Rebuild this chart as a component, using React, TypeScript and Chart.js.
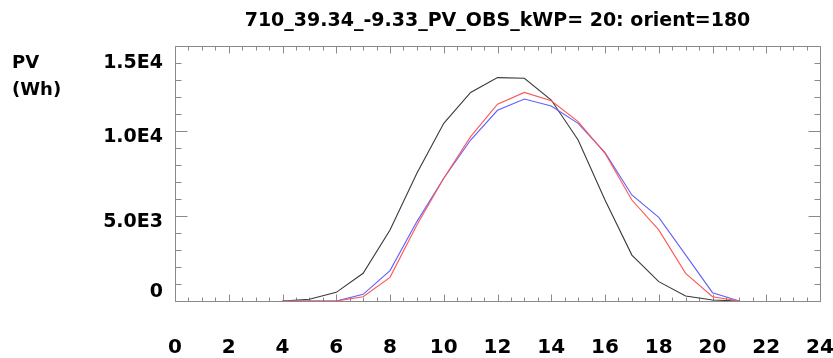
import React, { useEffect, useRef } from "react";
import { Chart, registerables } from "chart.js";

Chart.register(...registerables);

const titleText = "710_39.34_-9.33_PV_OBS_kWP= 20: orient=180";
const yUnitLines = ["PV", "(Wh)"];
const hours = [4, 5, 6, 7, 8, 9, 10, 11, 12, 13, 14, 15, 16, 17, 18, 19, 20, 21];
const seriesBlack = [0, 100, 510, 1630, 4180, 7510, 10450, 12270, 13140, 13100, 11820, 9470, 5940, 2700, 1140, 290, 60, 0];
const seriesRed = [0, 0, 0, 250, 1390, 4470, 7220, 9670, 11580, 12270, 11780, 10550, 8690, 5940, 4180, 1630, 250, 0];
const seriesBlue = [0, 0, 0, 390, 1790, 4670, 7220, 9470, 11220, 11880, 11470, 10450, 8730, 6240, 4920, 2710, 490, 0];
const yTickValues = [0, 5000, 10000, 15000];
const yTickLabels = ["0", "5.0E3", "1.0E4", "1.5E4"];

const FONT = '"DejaVu Sans", "Liberation Sans", Arial, sans-serif';

const framePlugin = {
  id: "idlFrame",
  beforeDatasetsDraw(chart: any) {
    const { ctx, chartArea: a, scales } = chart;
    const x = scales.x;
    const y = scales.y;
    ctx.save();
    ctx.strokeStyle = "#8a8a8a";
    ctx.lineWidth = 1;
    const L = Math.round(a.left) + 0.5;
    const R = Math.round(a.right) + 0.5;
    const T = Math.round(a.top) + 0.5;
    const B = Math.round(a.bottom) + 0.5;
    ctx.beginPath();
    ctx.rect(L, T, R - L, B - T);
    ctx.stroke();
    ctx.beginPath();
    for (let v = 0; v <= 24.0001; v += 0.5) {
      const px = Math.round(x.getPixelForValue(v)) + 0.5;
      const major = Math.abs(v % 2) < 1e-6;
      const len = major ? 7 : 4;
      ctx.moveTo(px, B);
      ctx.lineTo(px, B - len);
      ctx.moveTo(px, T);
      ctx.lineTo(px, T + len);
    }
    for (let v = 0; v <= 15000; v += 1000) {
      const py = Math.round(y.getPixelForValue(v)) + 0.5;
      const major = v % 5000 === 0;
      const len = major ? 12 : 6;
      ctx.moveTo(L, py);
      ctx.lineTo(L + len, py);
      ctx.moveTo(R, py);
      ctx.lineTo(R - len, py);
    }
    ctx.stroke();
    ctx.restore();
  },
  afterDraw(chart: any) {
    const { ctx, chartArea: a, scales } = chart;
    const y = scales.y;
    ctx.save();
    ctx.fillStyle = "#000";
    ctx.font = `bold 19px ${FONT}`;
    ctx.textAlign = "right";
    ctx.textBaseline = "middle";
    yTickValues.forEach((v, i) => {
      let py = y.getPixelForValue(v) + 6;
      py = Math.max(a.top + 17, Math.min(a.bottom - 9, py));
      ctx.fillText(yTickLabels[i], a.left - 12, py);
    });
    ctx.font = `bold 18px ${FONT}`;
    ctx.textAlign = "left";
    ctx.fillText(yUnitLines[0], 12, 63);
    ctx.fillText(yUnitLines[1], 12, 90);
    ctx.restore();
  },
};

export default function App() {
  const ref = useRef<HTMLCanvasElement | null>(null);
  useEffect(() => {
    document.body.style.margin = "0";
    const toPts = (vals: number[]) => hours.map((h, i) => ({ x: h, y: vals[i] }));
    const chart = new Chart(ref.current as HTMLCanvasElement, {
      type: "line",
      data: {
        datasets: [
          { label: "red", data: toPts(seriesRed), borderColor: "rgb(255,85,85)", borderWidth: 1.1, pointRadius: 0, tension: 0, fill: false },
          { label: "blue", data: toPts(seriesBlue), borderColor: "rgb(95,95,255)", borderWidth: 1.1, pointRadius: 0, tension: 0, fill: false },
          { label: "black", data: toPts(seriesBlack), borderColor: "#3a3a3a", borderWidth: 1.1, pointRadius: 0, tension: 0, fill: false },
        ],
      },
      options: {
        responsive: false,
        animation: false,
        layout: { padding: { left: 175, right: 13, top: 0, bottom: 0 } },
        plugins: {
          legend: { display: false },
          tooltip: { enabled: false },
          title: {
            display: true,
            text: titleText,
            color: "#000",
            font: { family: FONT, size: 19, weight: "bold" },
            padding: { top: 10, bottom: 13.2 },
          },
        },
        scales: {
          x: {
            type: "linear",
            min: 0,
            max: 24,
            grid: { display: false, drawTicks: false },
            border: { display: false },
            ticks: {
              stepSize: 2,
              color: "#000",
              padding: 35,
              font: { family: FONT, size: 20, weight: "bold" },
              maxRotation: 0,
              autoSkip: false,
            },
            afterFit: (scale: any) => {
              scale.height = 57;
              scale.paddingLeft = 0;
              scale.paddingRight = 0;
            },
          },
          y: {
            display: false,
            min: 0,
            max: 15000,
          },
        },
      },
      plugins: [framePlugin],
    });
    return () => chart.destroy();
  }, []);
  return (
    <div style={{ position: "absolute", left: 0, top: 0, width: 833, height: 358, background: "#fff" }}>
      <canvas ref={ref} width={833} height={358} />
    </div>
  );
}
